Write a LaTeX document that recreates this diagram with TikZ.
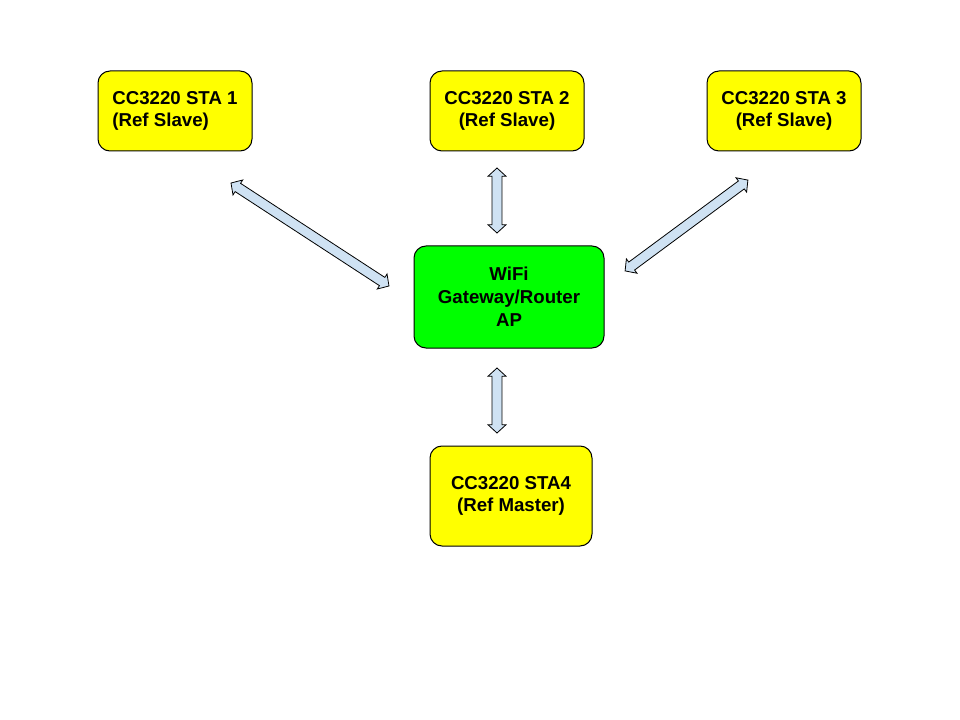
\documentclass[tikz,border=0pt]{standalone}
\usepackage{fontspec}
\setmainfont{Liberation Sans}
\usetikzlibrary{calc, positioning, shapes.arrows}
\definecolor{staYellow}{HTML}{FFFF00}
\definecolor{apGreen}{HTML}{00FF00}
\definecolor{linkBlue}{HTML}{CFE2F3}
\newcommand{\wlink}[2]{\path let \p1=($(#2)-(#1)$), \n1={atan2(\y1,\x1)}, \n2={veclen(\x1,\y1)} in
	node[link, rotate=\n1, minimum height=\n2] at ($(#1)!0.5!(#2)$) {};}
\tikzset
{%
box/.style={draw, rounded corners=9pt, line width=0.75pt, inner sep=0pt, font=\bfseries\fontsize{14}{16.5}\selectfont},
sta/.style={box, fill=staYellow, minimum width=115.5pt, minimum height=60pt, align=center},
gw/.style={box, fill=apGreen, minimum width=142.5pt, minimum height=76.5pt, align=center, font=\bfseries\fontsize{14}{17.2}\selectfont},
link/.style={double arrow, draw, fill=linkBlue, line width=0.6pt, inner xsep=0pt, inner ysep=3.4pt, double arrow head extend=3pt, double arrow tip angle=95, minimum width=12.8pt}
}
\begin{document}
\begin{tikzpicture}[x=0.75pt, y=-0.75pt]
		\useasboundingbox (0,0) rectangle (960,720);
		
		%Stations
		\node[sta, align=left] (sta1) at (175,111) {CC3220 STA 1\\(Ref Slave)};
		\node[sta] (sta2) at (507,111) {CC3220 STA 2\\(Ref Slave)};
		\node[sta] (sta3) at (784,111) {CC3220 STA 3\\(Ref Slave)};
		\node[sta, minimum width=121.5pt, minimum height=75pt] (sta4) at (511,496) {CC3220 STA4\\(Ref Master)};
		
		%Access point
		\node[gw] (ap) at (509,297) {WiFi\\Gateway/Router\\AP};
		
		%Links
		\coordinate (l1a) at (231,183);
		\coordinate (l1b) at (389,286);
		\coordinate (l2a) at (497,168);
		\coordinate (l2b) at (497,233);
		\coordinate (l3a) at (748,180);
		\coordinate (l3b) at (625,271);
		\coordinate (l4a) at (497,368);
		\coordinate (l4b) at (497,433);
		\wlink{l1a}{l1b}
		\wlink{l2a}{l2b}
		\wlink{l3a}{l3b}
		\wlink{l4a}{l4b}
	\end{tikzpicture}
\end{document}
